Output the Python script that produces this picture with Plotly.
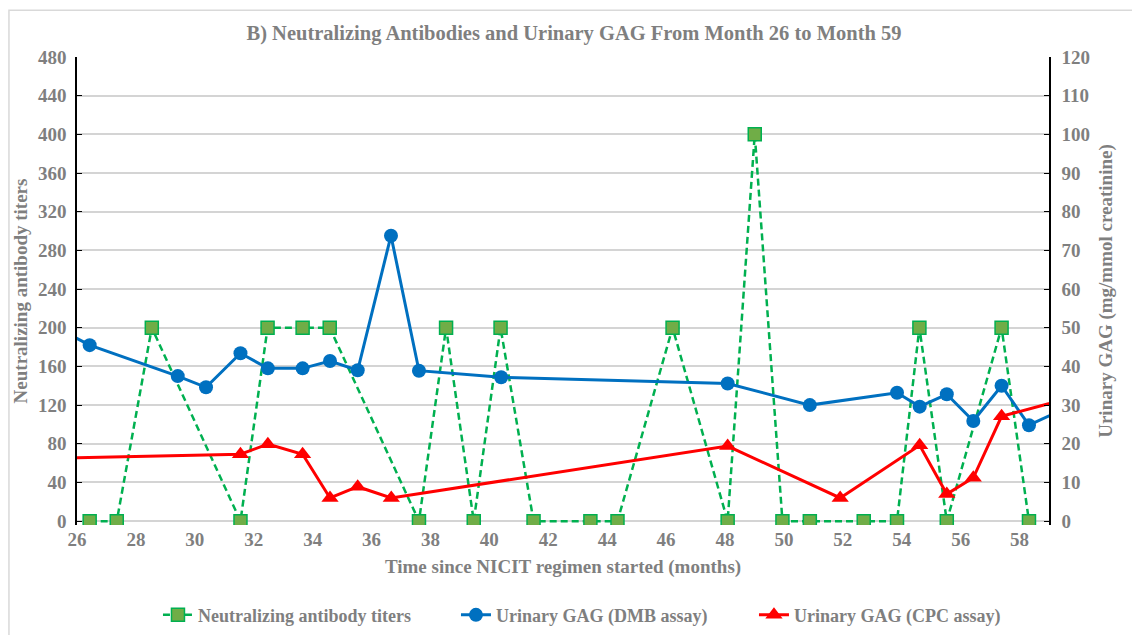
import plotly.graph_objects as go

# Neutralizing antibody titers (left axis)
nab_month = [26.43, 27.35, 28.54, 31.55, 32.47, 33.66, 34.58, 37.61, 38.53, 39.47,
             40.38, 41.50, 43.43, 44.35, 46.22, 48.09, 49.01, 49.95, 50.88, 52.71,
             53.84, 54.60, 55.53, 57.39, 58.32]
nab_titer = [0, 0, 200, 0, 200, 200, 200, 0, 200, 0,
             200, 0, 0, 0, 200, 0, 400, 0, 0, 0,
             0, 200, 0, 200, 0]

# Urinary GAG, DMB assay (right axis)
dmb_month = [25.5, 26.43, 29.42, 30.38, 31.55, 32.48, 33.66, 34.59, 35.53, 36.66,
             37.61, 40.40, 48.09, 50.88, 53.84, 54.61, 55.53, 56.43, 57.39, 58.32, 59.5]
dmb_gag = [49.2, 45.5, 37.5, 34.6, 43.4, 39.5, 39.5, 41.4, 39.0, 73.8,
           38.9, 37.2, 35.6, 30.0, 33.2, 29.6, 32.8, 25.9, 35.0, 24.8, 29.0]

# Urinary GAG, CPC assay (right axis)
cpc_month = [25.5, 31.55, 32.48, 33.66, 34.59, 35.53, 36.67, 48.09, 51.91, 54.61,
             55.53, 56.43, 57.39, 59.5]
cpc_gag = [16.3, 17.3, 19.9, 17.3, 6.0, 8.9, 6.0, 19.4, 6.0, 19.6,
           7.0, 11.2, 27.1, 31.4]

left_ticks = list(range(0, 481, 40))
right_ticks = list(range(0, 121, 10))
x_ticks = list(range(26, 59, 2))

FONT = "Liberation Serif, Times New Roman, serif"
GRAY = "#7f7f7f"

fig = go.Figure()
fig.add_trace(go.Scatter(
    x=nab_month, y=nab_titer, mode="lines+markers",
    name="Neutralizing antibody titers",
    line=dict(color="#00b050", width=2.5, dash="7px,4px", simplify=False),
    marker=dict(symbol="square", size=13, color="#70ad47",
                line=dict(color="#00b050", width=1.5)),
))
fig.add_trace(go.Scatter(
    x=dmb_month, y=dmb_gag, mode="lines+markers", yaxis="y2",
    name="Urinary GAG (DMB assay)",
    line=dict(color="#0070c0", width=3),
    marker=dict(symbol="circle", size=14, color="#0070c0"),
))
fig.add_trace(go.Scatter(
    x=cpc_month, y=cpc_gag, mode="lines+markers", yaxis="y2",
    name="Urinary GAG (CPC assay)",
    line=dict(color="#ff0000", width=3),
    marker=dict(symbol="triangle-up", size=15, color="#ff0000"),
))

tickfont = dict(family=FONT, size=19, color=GRAY, weight="bold")
titlefont = dict(family=FONT, size=19, color=GRAY, weight="bold")

# figure is offset by the page's 8px body margin, so sizes are reduced by 8
fig.update_layout(
    width=1132, height=627,
    margin=dict(l=69, r=91, t=49, b=110.13, autoexpand=False),
    paper_bgcolor="white", plot_bgcolor="white",
    title=dict(text="B) Neutralizing Antibodies and Urinary GAG From Month 26 to Month 59",
               x=0.5, xanchor="center", y=0.96, yanchor="middle",
               font=dict(family=FONT, size=20.5, color=GRAY, weight="bold")),
    xaxis=dict(range=[26, 59], tickvals=x_ticks, showgrid=False, zeroline=False,
               showline=False, ticks="",
               tickfont=tickfont, ticklabelstandoff=1, automargin=False,
               title=dict(text="Time since NICIT regimen started (months)",
                          font=titlefont, standoff=10)),
    yaxis=dict(range=[-4, 480], tickvals=left_ticks, showgrid=True, gridcolor="#d4d4d4",
               gridwidth=1.5, zeroline=False,
               showline=True, linecolor="black", linewidth=1.5,
               ticks="inside", ticklen=5, tickcolor="black", tickfont=tickfont,
               ticklabelstandoff=5, automargin=False,
               title=dict(text="Neutralizing antibody titers", font=titlefont, standoff=5)),
    yaxis2=dict(range=[-1, 120], tickvals=right_ticks, overlaying="y", side="right",
                showgrid=False, zeroline=False, showline=True, linecolor="black", linewidth=1.5,
                ticks="inside", ticklen=5, tickcolor="black", tickfont=tickfont,
                ticklabelstandoff=7, automargin=False,
                title=dict(text="Urinary GAG (mg/mmol creatinine)", font=titlefont, standoff=10)),
    legend=dict(orientation="h", x=0.0833, xanchor="left", y=-0.1926, yanchor="middle",
                font=dict(family=FONT, size=18, color=GRAY, weight="bold"),
                entrywidth=253, traceorder="normal"),
    showlegend=True,
)

fig.add_shape(type="rect", xref="paper", yref="paper", x0=-0.07, x1=1.3, y0=-0.4, y1=1.1,
              line=dict(color="#d9d9d9", width=1.5), fillcolor="rgba(0,0,0,0)", layer="below")

fig.write_html("out.html")
